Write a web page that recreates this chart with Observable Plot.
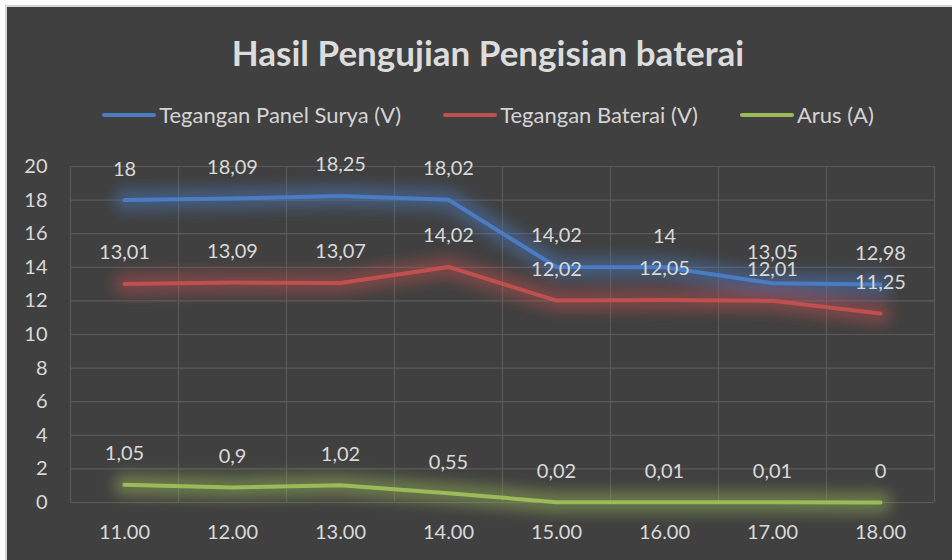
<!DOCTYPE html>
<html>
<head>
<meta charset="utf-8">
<script src="https://cdn.jsdelivr.net/npm/d3@7"></script>
<script src="https://cdn.jsdelivr.net/npm/@observablehq/plot@0.6"></script>
<style>
  html, body { margin: 0; padding: 0; background: #ffffff; width: 952px; height: 560px; overflow: hidden; }
  #panel { position: absolute; left: 5px; top: 5px; width: 980px; height: 600px; background: #404040;
           border-top: 2px solid #d6d6d6; border-left: 2px solid #d6d6d6; }
  #title { position: absolute; left: 0; top: 29px; width: 976px; text-align: center;
           font-family: Lato, sans-serif; font-weight: bold; font-size: 35px; color: #dcdcdc; line-height: 46px; }
  #legend { position: absolute; left: 0; top: 100px; width: 976px; display: flex; justify-content: center;
            gap: 42px; font-family: Lato, sans-serif; font-size: 22px; color: #d4d4d4; line-height: 30px; }
  .item { display: flex; align-items: center; gap: 3px; }
  .swatch { width: 54px; height: 4px; border-radius: 2px; }
  #chart { position: absolute; left: 0; top: 140px; }
</style>
</head>
<body>
<div id="panel"></div>
<div id="title">Hasil Pengujian Pengisian baterai</div>
<div id="legend"></div>
<div id="chart"></div>
<script>
const categories = ["11.00", "12.00", "13.00", "14.00", "15.00", "16.00", "17.00", "18.00"];
const seriesNames = ["Tegangan Panel Surya (V)", "Tegangan Baterai (V)", "Arus (A)"];
const seriesColors = ["#4a7cc4", "#c0504d", "#9bbb59"];
const panelSurya = [18, 18.09, 18.25, 18.02, 14.02, 14, 13.05, 12.98];
const baterai = [13.01, 13.09, 13.07, 14.02, 12.02, 12.05, 12.01, 11.25];
const arus = [1.05, 0.9, 1.02, 0.55, 0.02, 0.01, 0.01, 0];
const yTicks = [0, 2, 4, 6, 8, 10, 12, 14, 16, 18, 20];

const seriesValues = [panelSurya, baterai, arus];
const rows = [];
seriesValues.forEach((vals, s) => vals.forEach((v, i) => rows.push({series: seriesNames[s], i, v})));
const xIdx = categories.map((c, i) => i);
const xEdges = [-0.5, ...categories.map((c, i) => i + 0.5)];
const fmt = v => String(v).replace(".", ",");

// legend
const legend = document.getElementById("legend");
seriesNames.forEach((n, s) => {
  const it = document.createElement("div");
  it.className = "item";
  const sw = document.createElement("span");
  sw.className = "swatch";
  sw.style.background = seriesColors[s];
  const tx = document.createElement("span");
  tx.textContent = n;
  it.appendChild(sw); it.appendChild(tx);
  legend.appendChild(it);
});

const plot = Plot.plot({
  width: 952,
  height: 420,
  marginLeft: 70,
  marginRight: 18,
  marginTop: 26,
  marginBottom: 58,
  style: {background: "transparent", color: "#d9d9d9", fontFamily: "Lato, sans-serif", fontSize: "20px"},
  x: {type: "linear", domain: [-0.5, categories.length - 0.5], ticks: xIdx, tickFormat: i => categories[i], tickSize: 0, tickPadding: 22, label: null},
  y: {domain: [0, 20], ticks: yTicks, tickSize: 0, tickPadding: 23, label: null},
  color: {domain: seriesNames, range: seriesColors},
  marks: [
    Plot.ruleY(yTicks, {stroke: "#5a5a5a", strokeWidth: 1.2}),
    Plot.ruleX(xEdges, {stroke: "#5a5a5a", strokeWidth: 1.2}),
    Plot.line(rows, {x: "i", y: "v", z: "series", stroke: "series", strokeWidth: 22, strokeOpacity: 0.45, strokeLinecap: "round", strokeLinejoin: "round"}),
    Plot.line(rows, {x: "i", y: "v", z: "series", stroke: "series", strokeWidth: 4, strokeLinecap: "round", strokeLinejoin: "round"}),
    Plot.text(rows, {x: "i", y: "v", text: d => fmt(d.v), dy: -31, fill: "#d9d9d9", fontSize: 20})
  ]
});
document.getElementById("chart").appendChild(plot);

const svg = d3.select(plot);
const defs = svg.insert("defs", ":first-child");
const f = defs.append("filter").attr("id", "glow").attr("filterUnits", "userSpaceOnUse")
  .attr("x", 0).attr("y", 0).attr("width", 952).attr("height", 420);
f.append("feGaussianBlur").attr("stdDeviation", 7);
svg.selectAll('g[aria-label="line"]').filter((d, i) => i === 0).attr("filter", "url(#glow)");
</script>
</body>
</html>
